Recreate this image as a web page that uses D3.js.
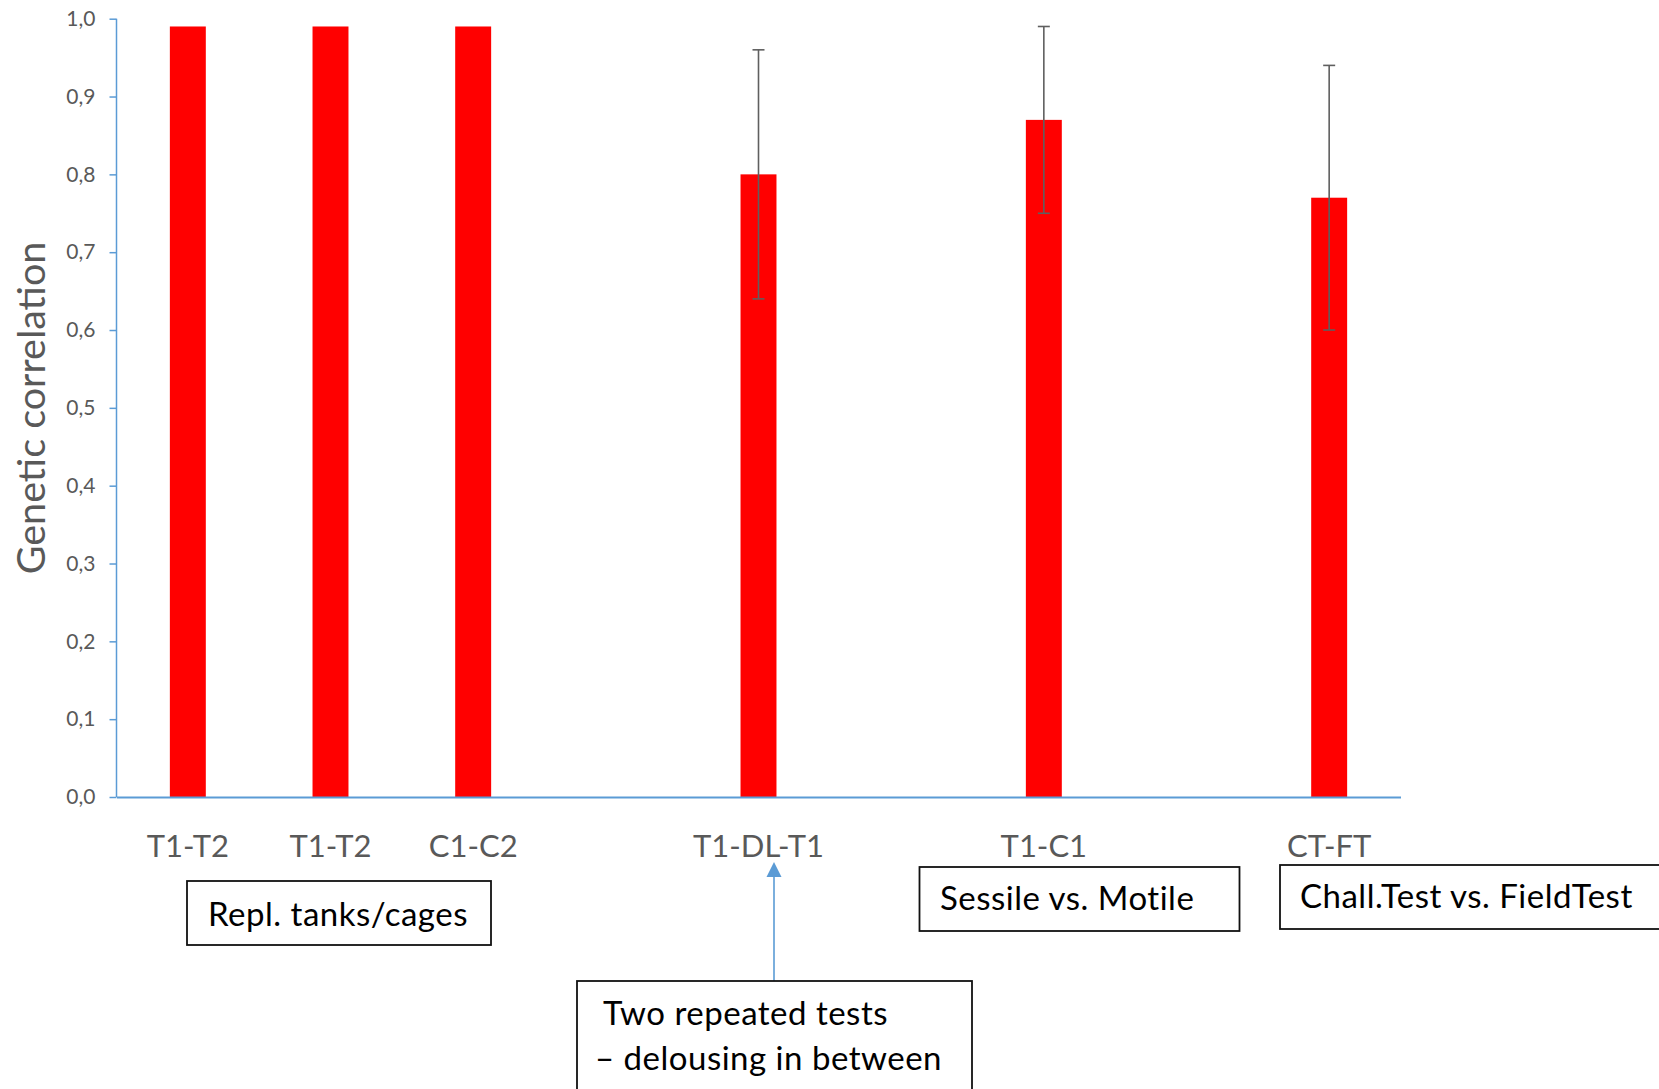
<!DOCTYPE html>
<html>
<head>
<meta charset="utf-8">
<script src="https://cdn.jsdelivr.net/npm/d3@7"></script>
<style>
  html, body { margin: 0; padding: 0; background: #fff; }
  svg { display: block; }
</style>
</head>
<body>
<svg id="chart" width="1659" height="1089"></svg>
<script>
// ---- data ----
const categories = ["T1-T2", "T1-T2", "C1-C2", "", "T1-DL-T1", "", "T1-C1", "", "CT-FT"];
const values     = [0.99, 0.99, 0.99, null, 0.80, null, 0.87, null, 0.77];
const errLow     = [null, null, null, null, 0.64, null, 0.75, null, 0.60];
const errHigh    = [null, null, null, null, 0.96, null, 0.99, null, 0.94];
const yTickValues = [0, 0.1, 0.2, 0.3, 0.4, 0.5, 0.6, 0.7, 0.8, 0.9, 1.0];
const yAxisTitle = "Genetic correlation";
const noteRepl = ["Repl. tanks/cages"];
const noteDelousing = ["Two repeated tests", "\u2013 delousing in between"];
const noteSessile = ["Sessile vs. Motile"];
const noteChall = ["Chall.Test vs. FieldTest"];

// ---- layout ----
const svg = d3.select("#chart");
const FONT = "Lato, 'Open Sans', sans-serif";
const axisColor = "#5b9bd5";
const textGray = "#595959";

const plotLeft = 116.5, plotRight = 1400.5, plotTop = 18.7, plotBottom = 797;

const idx = categories.map((d, i) => i);
const x = d3.scaleBand()
  .domain(idx)
  .range([plotLeft, plotRight])
  .paddingInner(0.748)
  .paddingOuter(0.374);

const y = d3.scaleLinear().domain([0, 1]).range([plotBottom, plotTop]);

// bars
svg.append("g").selectAll("rect")
  .data(idx.filter(i => values[i] != null))
  .join("rect")
  .attr("x", i => x(i))
  .attr("width", x.bandwidth())
  .attr("y", i => y(values[i]))
  .attr("height", i => y(0) - y(values[i]))
  .attr("fill", "#ff0000");

// error bars
const eg = svg.append("g").attr("stroke", "#5f5f5f").attr("stroke-width", 1.6);
const errIdx = idx.filter(i => errLow[i] != null);
const capW = 6;
errIdx.forEach(i => {
  const cx = x(i) + x.bandwidth() / 2;
  eg.append("line").attr("x1", cx).attr("x2", cx).attr("y1", y(errLow[i])).attr("y2", y(errHigh[i]));
  eg.append("line").attr("x1", cx - capW).attr("x2", cx + capW).attr("y1", y(errLow[i])).attr("y2", y(errLow[i]));
  eg.append("line").attr("x1", cx - capW).attr("x2", cx + capW).attr("y1", y(errHigh[i])).attr("y2", y(errHigh[i]));
});

// y axis
const yAxis = d3.axisLeft(y)
  .tickValues(yTickValues)
  .tickSize(7)
  .tickPadding(14)
  .tickFormat(d => d3.format(".1f")(d).replace(".", ","));
const gy = svg.append("g").attr("transform", `translate(${plotLeft},0)`).call(yAxis);
gy.select(".domain").attr("stroke", axisColor).attr("stroke-width", 1.5).attr("d", `M0,${plotTop}V${plotBottom}`);
gy.selectAll(".tick line").attr("stroke", axisColor).attr("stroke-width", 1.5);
gy.selectAll(".tick text").attr("fill", textGray).style("font-family", FONT).style("font-size", "21px");

// x axis
const xAxis = d3.axisBottom(x).tickSize(0).tickPadding(38).tickFormat(i => categories[i]);
const gx = svg.append("g").attr("transform", `translate(0,${plotBottom})`).call(xAxis);
gx.select(".domain").attr("stroke", axisColor).attr("stroke-width", 1.8);
gx.selectAll(".tick text").attr("fill", textGray).style("font-family", FONT).style("font-size", "31px");

// y axis title
svg.append("text")
  .attr("transform", "translate(45,408) rotate(-90)")
  .attr("text-anchor", "middle")
  .attr("fill", textGray)
  .style("font-family", FONT)
  .style("font-size", "39.5px")
  .text(yAxisTitle);

// annotation boxes
function noteBox(bx, by, bw, bh, lines, tx, ty, lh) {
  const g = svg.append("g");
  g.append("rect").attr("x", bx).attr("y", by).attr("width", bw).attr("height", bh)
    .attr("fill", "#fff").attr("stroke", "#111").attr("stroke-width", 1.8);
  lines.forEach((t, k) => {
    g.append("text").attr("x", tx[k] != null ? tx[k] : tx[0]).attr("y", ty + k * lh)
      .attr("fill", "#000").style("font-family", FONT).style("font-size", "33px")
      .style("letter-spacing", "0.5px").text(t);
  });
}
noteBox(187, 881, 304, 64, noteRepl, [208], 926, 0);
noteBox(919.5, 867, 320, 64, noteSessile, [940], 910, 0);
noteBox(1280, 865, 420, 64, noteChall, [1300], 908, 0);

// arrow for delousing note
const arrowX = 774;
svg.append("line").attr("x1", arrowX).attr("x2", arrowX).attr("y1", 981).attr("y2", 876)
  .attr("stroke", axisColor).attr("stroke-width", 1.6);
svg.append("path").attr("d", `M${arrowX},862 L${arrowX - 7.5},877 L${arrowX + 7.5},877 Z`).attr("fill", axisColor);

noteBox(577, 981, 395, 140, noteDelousing, [603, 595], 1025, 45);
</script>
</body>
</html>
